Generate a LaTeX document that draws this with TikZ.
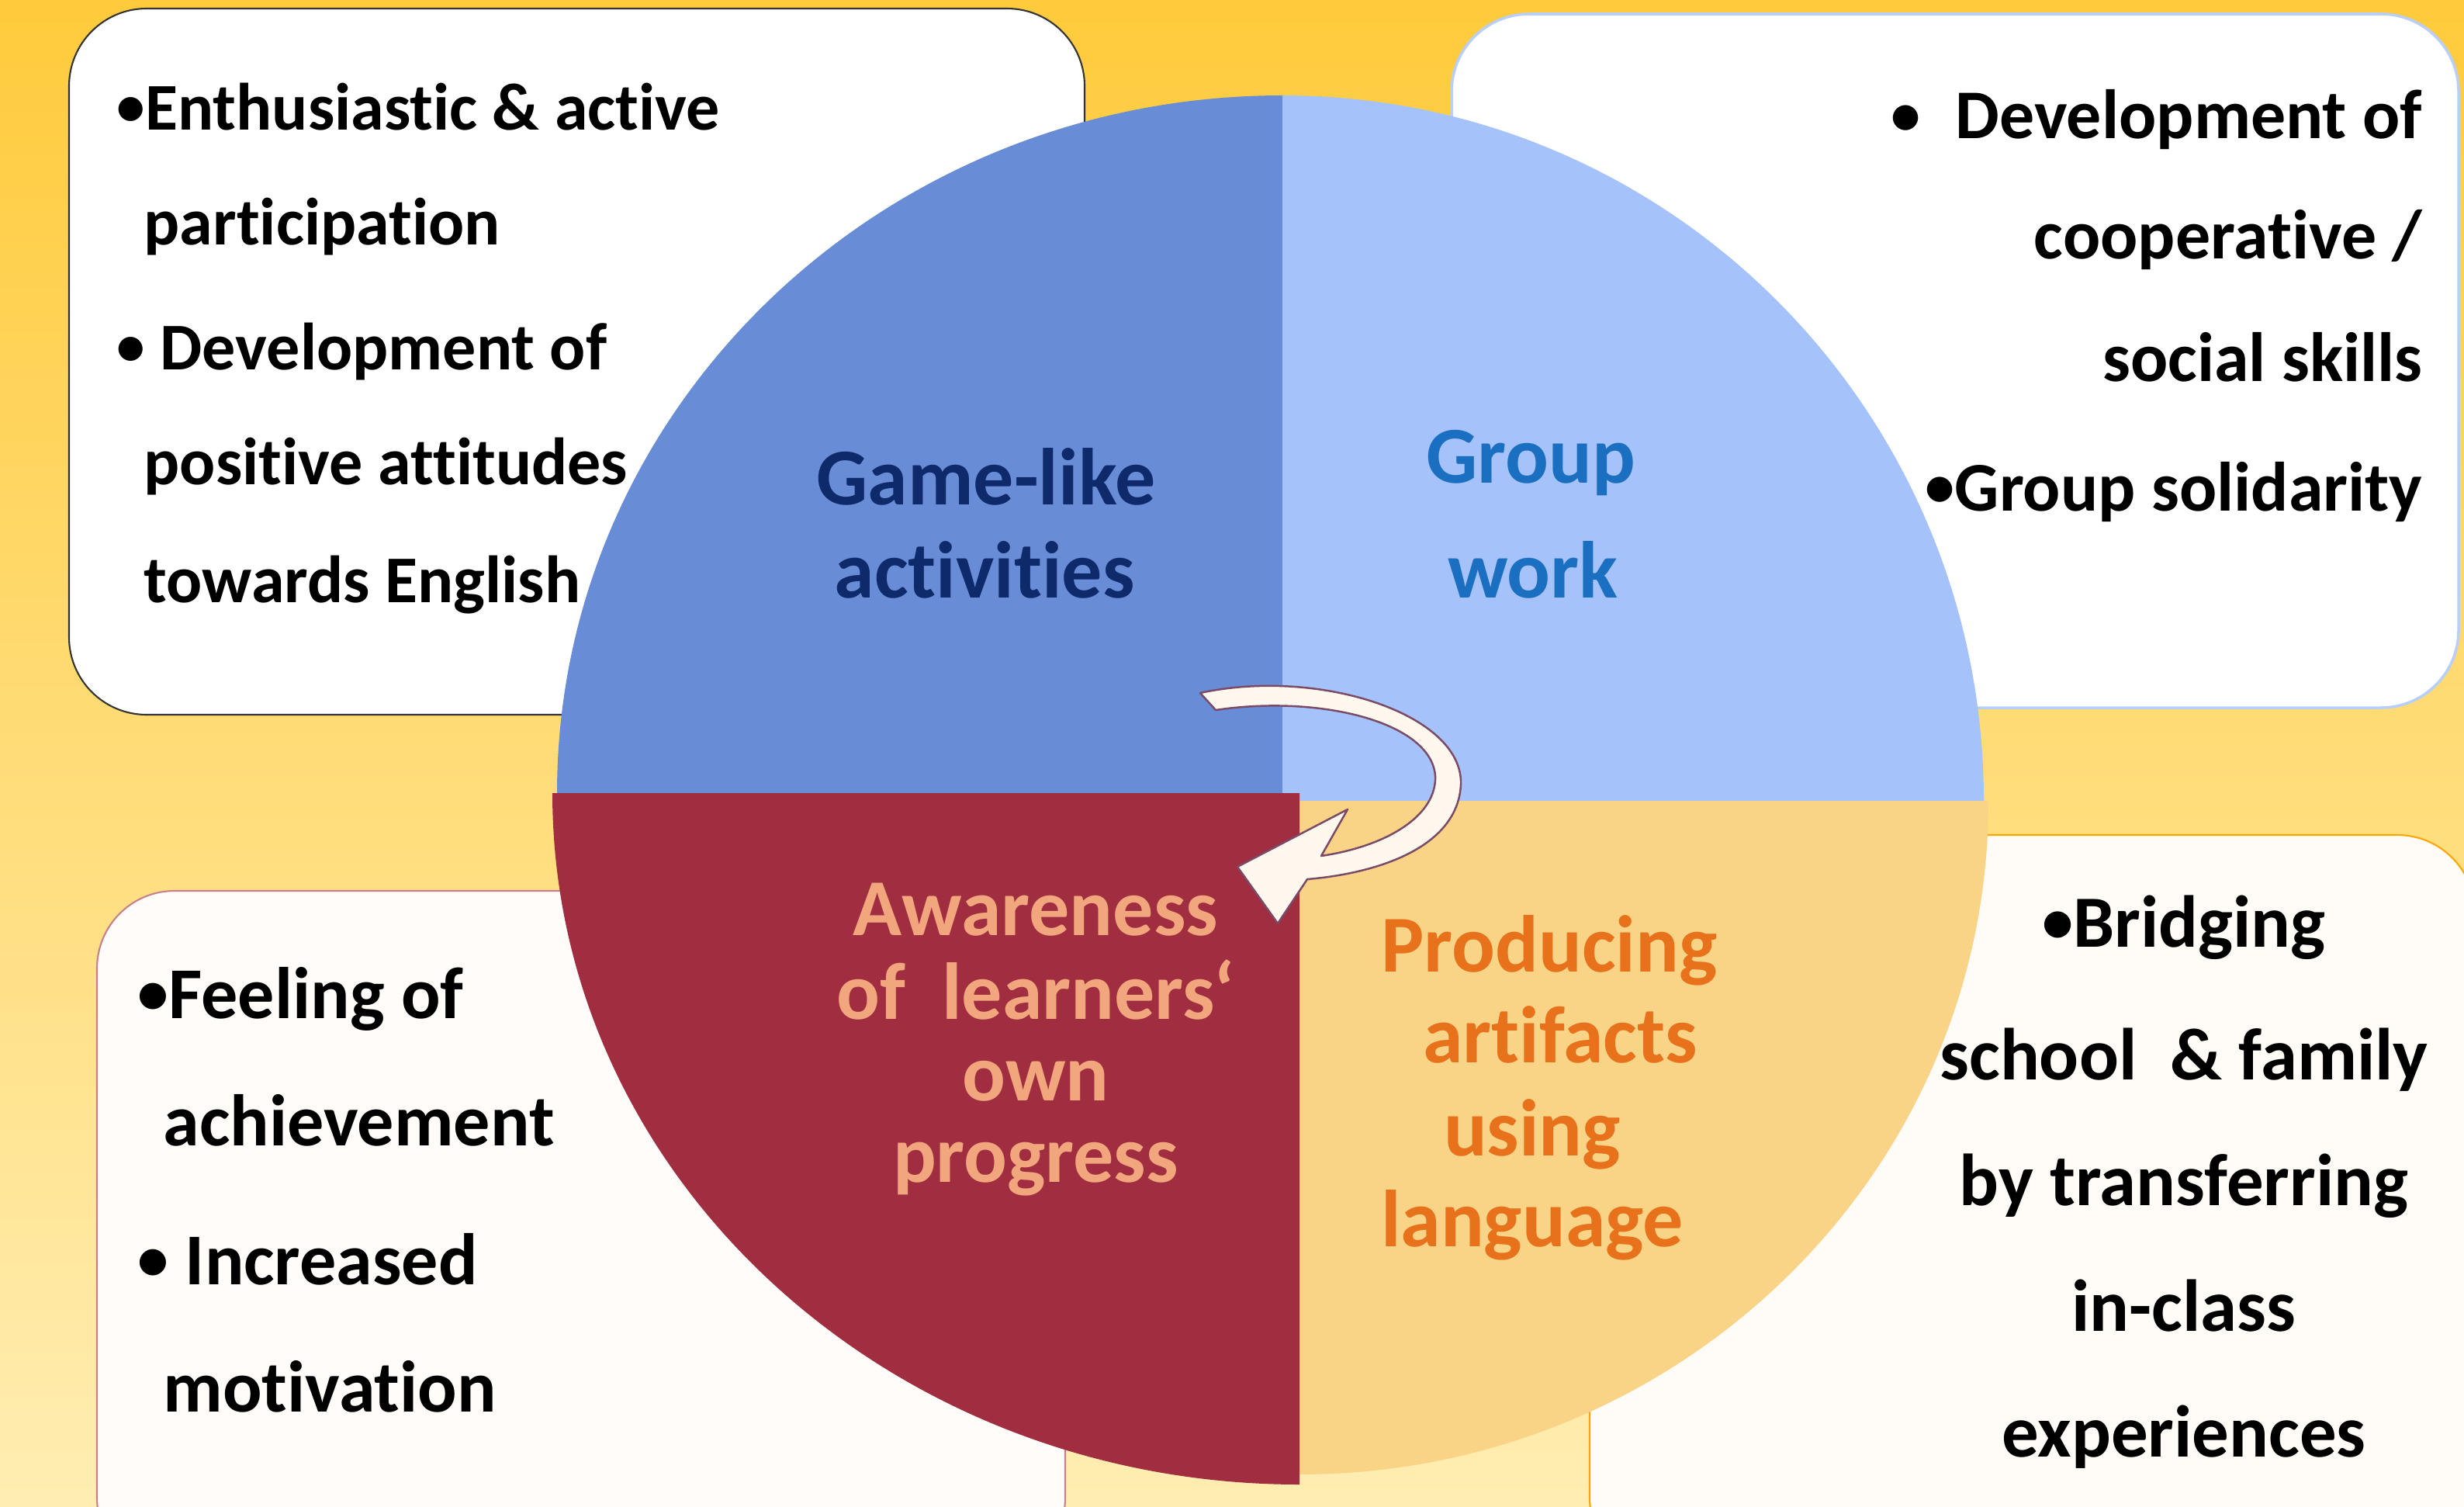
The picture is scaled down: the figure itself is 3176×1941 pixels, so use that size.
\documentclass[tikz,border=0pt]{standalone}
\usepackage{graphicx}
\usepackage{fontspec}
\setmainfont{Carlito}[Ligatures={NoCommon,NoRequired,NoContextual}]
\newcommand{\bul}{\raisebox{0.06em}{\scalebox{0.85}{•}}}
\definecolor{bgtop}{HTML}{FFCB3C}
\definecolor{bgbot}{HTML}{FFEDB2}
\definecolor{qblue}{HTML}{688CD6}
\definecolor{qlight}{HTML}{A6C2FA}
\definecolor{qred}{HTML}{A02E40}
\definecolor{qorange}{HTML}{F9D386}
\definecolor{tnavy}{HTML}{0E2A6B}
\definecolor{tblue}{HTML}{1B6FC0}
\definecolor{tpeach}{HTML}{F2A67E}
\definecolor{torange}{HTML}{E8711C}
\definecolor{arrfill}{HTML}{FFF8EE}
\definecolor{arrline}{HTML}{7A4A66}
\tikzset{
  box/.style={rounded corners=10mm, line width=0.6pt},
  txt/.style={inner sep=0pt, font=\bfseries, text=black},
  tltxt/.style={txt, font=\bfseries\fontsize{24.5}{29}\selectfont, anchor=base west},
  trtxt/.style={txt, font=\bfseries\fontsize{25.6}{30}\selectfont, anchor=base east},
  bltxt/.style={txt, font=\bfseries\fontsize{26.8}{31}\selectfont, anchor=base west},
  brtxt/.style={txt, font=\bfseries\fontsize{27}{31}\selectfont, anchor=base},
  ctxt/.style={inner sep=0pt, font=\bfseries\fontsize{29.6}{34}\selectfont, anchor=base},
}
\begin{document}
\begin{tikzpicture}[x=0.1mm,y=-0.1mm]
\useasboundingbox (0,0) rectangle (3176,1941);
\shade[top color=bgtop, bottom color=bgbot] (0,0) rectangle (3176,1941);

% boxes
\draw[box, draw=black!80, fill=white] (89,11) rectangle (1398,921);
\draw[box, draw=qlight!80!white, line width=1pt, fill=white] (1871,18) rectangle (3169,912);
\draw[box, draw=qred!60!white, fill=white!98!orange] (125,1148) rectangle (1373,2030);
\draw[box, draw=orange!70!yellow, fill=white!97!orange] (2049,1076) rectangle (3190,2030);

% pie quarters
\begin{scope}
  \clip (0,0) rectangle (1653,1022);
  \fill[qblue] (1653,1022) ellipse [x radius=93.5mm, y radius=89.9mm];
\end{scope}
\begin{scope}
  \clip (1653,0) rectangle (3176,1032);
  \fill[qlight] (1653,1032) ellipse [x radius=90.4mm, y radius=90.9mm];
\end{scope}
\begin{scope}
  \clip (1675,1032) rectangle (3176,1941);
  \fill[qorange] (1675,1032) ellipse [x radius=88.8mm, y radius=86.8mm];
\end{scope}
\begin{scope}
  \clip (0,1022) rectangle (1675,1941);
  \fill[qred] (1675,1022) ellipse [x radius=96.3mm, y radius=89.1mm];
\end{scope}

% curved arrow
\draw[fill=arrfill, draw=arrline, line width=0.7pt, line join=round]
  (1547,893) .. controls (1700,860) and (1885,920) .. (1883,1010)
  .. controls (1880,1090) and (1780,1125) .. (1685,1133)
  -- (1647,1190) -- (1595,1117) -- (1737,1043) -- (1703,1103)
  .. controls (1790,1090) and (1852,1050) .. (1850,1000)
  .. controls (1845,930) and (1700,895) .. (1567,915) -- cycle;

% top-left texts
\node[tltxt] (tl1) at (150,167) {\bul Enthusiastic \& active};
\node[tltxt] (tl2) at (185,315) {participation};
\node[tltxt] (tl3) at (150,476) {\bul\ Development of};
\node[tltxt] (tl4) at (185,624) {positive attitudes};
\node[tltxt] (tl5) at (185,776) {towards English};

% top-right texts
\node[trtxt] (tr1) at (3123,179) {\bul\hspace{0.5em}Development of};
\node[trtxt] (tr2) at (3123,333) {cooperative /};
\node[trtxt] (tr3) at (3123,491) {social skills};
\node[trtxt] (tr4) at (3123,658) {\bul Group solidarity};

% bottom-left texts
\node[bltxt] (bl1) at (177,1312) {\bul Feeling of};
\node[bltxt] (bl2) at (210,1476) {achievement};
\node[bltxt] (bl3) at (177,1655) {\bul\ Increased};
\node[bltxt] (bl4) at (210,1819) {motivation};

% bottom-right texts
\node[brtxt] (br1) at (2815,1220) {\bul Bridging};
\node[brtxt] (br2) at (2815,1391) {school\ \ \& family};
\node[brtxt] (br3) at (2815,1553) {by transferring};
\node[brtxt] (br4) at (2815,1715) {in-class};
\node[brtxt] (br5) at (2815,1877) {experiences};

% centre labels
\node[ctxt, text=tnavy] (g1) at (1271,650) {Game-like};
\node[ctxt, text=tnavy] (g2) at (1269,770) {activities};
\node[ctxt, text=tblue] (w1) at (1973,622) {Group};
\node[ctxt, text=tblue] (w2) at (1976,770) {work};
\node[ctxt, text=tpeach] (a1) at (1335,1205) {Awareness};
\node[ctxt, text=tpeach] (a2) at (1335,1313) {of\ \ learners‘};
\node[ctxt, text=tpeach] (a3) at (1335,1418) {own};
\node[ctxt, text=tpeach] (a4) at (1335,1523) {progress};
\node[ctxt, text=torange] (p1) at (1997,1252) {Producing};
\node[ctxt, text=torange] (p2) at (2011,1369) {artifacts};
\node[ctxt, text=torange] (p3) at (1975,1489) {using};
\node[ctxt, text=torange] (p4) at (1975,1606) {language};
\end{tikzpicture}
\end{document}
